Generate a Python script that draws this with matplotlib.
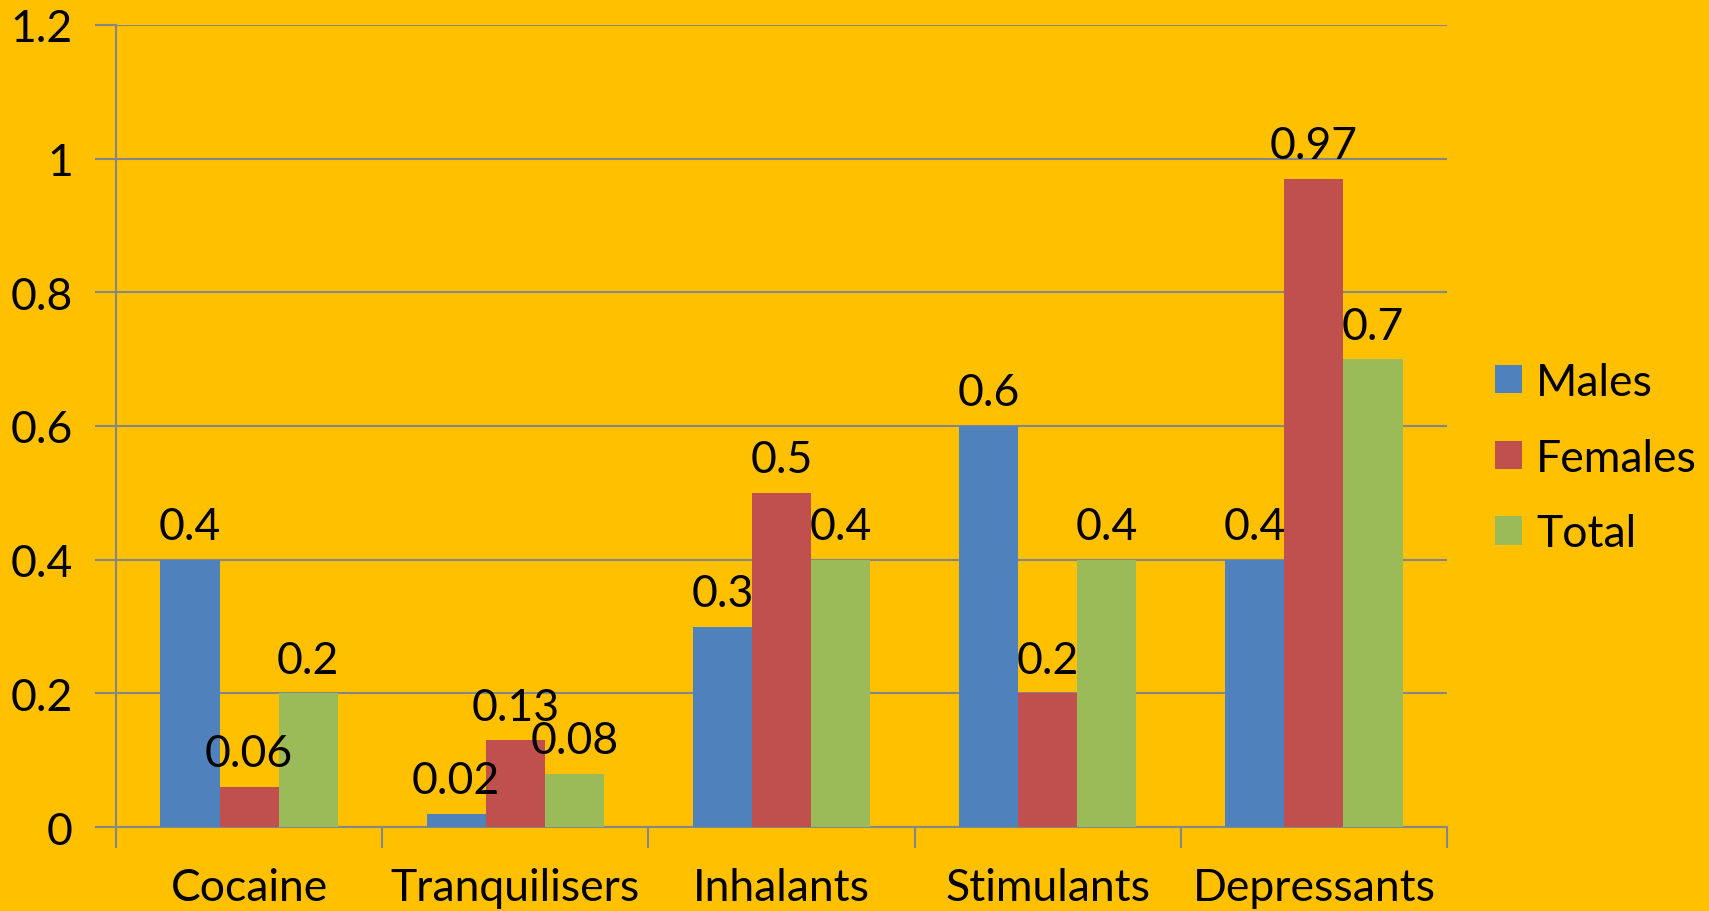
import matplotlib.pyplot as plt
import numpy as np

plt.rcParams['font.family'] = ['Lato', 'DejaVu Sans']

categories = ['Cocaine', 'Tranquilisers', 'Inhalants', 'Stimulants', 'Depressants']
males = [0.4, 0.02, 0.3, 0.6, 0.4]
females = [0.06, 0.13, 0.5, 0.2, 0.97]
total = [0.2, 0.08, 0.4, 0.4, 0.7]
series_names = ['Males', 'Females', 'Total']
colors = ['#4F81BD', '#C0504D', '#9BBB59']
bg = '#FFC000'
grid_col = '#868686'
fs = 32

fig = plt.figure(figsize=(17.09, 9.12), dpi=100, facecolor=bg)
ax = fig.add_axes([0.0679, 0.0921, 0.7788, 0.8794], facecolor=bg)

x = np.arange(len(categories))
width = 2 / 9  # excel gap width 50%
for i, (vals, name) in enumerate(zip([males, females, total], series_names)):
    bars = ax.bar(x + (i - 1) * width, vals, width, color=colors[i], label=name, zorder=3)
    ax.bar_label(bars, fmt='%g', padding=9, fontsize=fs, zorder=4)

ax.set_xlim(-0.5, len(categories) - 0.5)
ax.set_ylim(0, 1.2)
ax.set_yticks(np.arange(0, 1.21, 0.2))
ax.set_yticklabels(['%g' % round(v, 1) for v in np.arange(0, 1.21, 0.2)])
ax.yaxis.grid(True, color=grid_col, linewidth=1.5, zorder=0)

# ticks between categories, labels at centres
ax.set_xticks(np.arange(-0.5, len(categories)), [''] * (len(categories) + 1))
ax.set_xticks(x, categories, minor=True)
ax.tick_params(axis='x', which='major', length=15, width=1.5, color=grid_col, direction='out')
ax.tick_params(axis='x', which='minor', length=0, pad=29, labelsize=fs)
ax.tick_params(axis='y', length=15, width=1.5, color=grid_col, pad=16, labelsize=fs)

for s in ['top', 'right']:
    ax.spines[s].set_visible(False)
for s in ['left', 'bottom']:
    ax.spines[s].set_color(grid_col)
    ax.spines[s].set_linewidth(1.5)

fig.legend(loc='center left', bbox_to_anchor=(0.8748, 0.4967), frameon=False, fontsize=fs,
           handlelength=0.6, handleheight=0.6, handletextpad=0.33, labelspacing=0.78,
           borderpad=0, borderaxespad=0)

fig.savefig('out.png', dpi=100, facecolor=bg)
